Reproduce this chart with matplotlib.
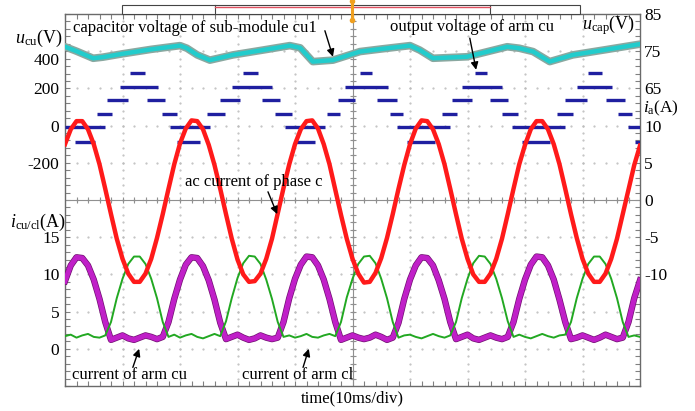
import matplotlib.pyplot as plt
import matplotlib.patheffects as pe
from matplotlib.patches import Rectangle
from matplotlib.lines import Line2D
from matplotlib.transforms import ScaledTranslation
import numpy as np

plt.rcParams['font.family'] = ['Liberation Serif', 'DejaVu Serif']
plt.rcParams['mathtext.fontset'] = 'custom'
plt.rcParams['mathtext.rm'] = 'Liberation Serif'
plt.rcParams['mathtext.it'] = 'Liberation Serif:italic'
plt.rcParams['axes.unicode_minus'] = False

# time base: 10 ms/div, 10 div, read every 1 ms
t_ms = np.arange(0, 101)

# ac current of phase c, i_a (A)
i_a = [7.5, 9.5, 10.6, 10.6, 9.5, 7.5, 4.8, 1.5, -1.9, -5.2, -7.9, -9.9, -11.0, -11.0, -9.9, -7.9, -5.1, -1.9, 1.5, 4.8,
       7.6, 9.6, 10.7, 10.6, 9.5, 7.4, 4.7, 1.5, -1.9, -5.2, -8.0, -10.0, -11.0, -10.9, -9.9, -7.9, -5.2, -1.8, 1.6, 4.8,
       7.5, 9.5, 10.6, 10.7, 9.6, 7.5, 4.8, 1.4, -2.0, -5.2, -7.9, -9.9, -11.1, -11.0, -9.8, -7.8, -5.1, -1.9, 1.5, 4.7,
       7.5, 9.6, 10.7, 10.6, 9.5, 7.5, 4.8, 1.5, -1.9, -5.2, -7.9, -10.0, -11.0, -11.0, -9.9, -7.9, -5.2, -1.9, 1.5, 4.8,
       7.4, 9.5, 10.6, 10.6, 9.5, 7.5, 4.8, 1.5, -1.9, -5.1, -7.9, -9.9, -11.0, -11.0, -9.9, -7.9, -5.2, -1.9, 1.4, 4.7,
       7.3]

# current of arm cu (A)
i_cu = [9.1, 11.2, 12.3, 12.2, 11.2, 9.3, 6.7, 3.6, 1.2, 1.5, 1.8, 1.4, 1.2, 1.5, 1.8, 1.6, 1.3, 1.6, 3.6, 6.7,
        9.3, 11.3, 12.3, 12.2, 11.1, 9.2, 6.6, 3.5, 1.3, 1.6, 1.9, 1.5, 1.2, 1.4, 1.8, 1.5, 1.3, 1.5, 3.6, 6.8,
        9.4, 11.3, 12.4, 12.3, 11.2, 9.3, 6.7, 3.6, 1.2, 1.5, 1.8, 1.5, 1.3, 1.5, 1.9, 1.6, 1.2, 1.5, 3.5, 6.7,
        9.3, 11.2, 12.3, 12.2, 11.2, 9.2, 6.7, 3.6, 1.3, 1.6, 1.9, 1.4, 1.2, 1.5, 1.8, 1.5, 1.3, 1.6, 3.6, 6.7,
        9.3, 11.3, 12.4, 12.3, 11.2, 9.3, 6.6, 3.6, 1.3, 1.5, 1.8, 1.5, 1.2, 1.5, 1.9, 1.6, 1.3, 1.5, 3.6, 6.8,
        9.2]

# current of arm cl (A)
i_cl = [1.7, 1.9, 1.5, 1.8, 2.0, 1.6, 1.5, 1.8, 3.6, 6.8, 9.4, 11.4, 12.4, 12.4, 11.4, 9.4, 6.8, 3.6, 1.6, 1.9,
        1.5, 1.8, 2.0, 1.6, 1.4, 1.7, 2.0, 1.7, 3.7, 6.8, 9.5, 11.5, 12.5, 12.4, 11.4, 9.3, 6.7, 3.6, 1.6, 1.8,
        1.5, 1.7, 2.0, 1.6, 1.5, 1.8, 2.0, 1.7, 3.6, 6.9, 9.4, 11.4, 12.4, 12.5, 11.5, 9.4, 6.8, 3.6, 1.5, 1.8,
        1.9, 1.6, 1.4, 1.7, 2.0, 1.7, 1.5, 1.8, 3.6, 6.8, 9.4, 11.5, 12.5, 12.4, 11.4, 9.4, 6.8, 3.7, 1.6, 1.9,
        1.6, 1.4, 1.7, 2.0, 1.7, 1.5, 1.8, 1.9, 3.6, 6.8, 9.4, 11.4, 12.4, 12.4, 11.4, 9.4, 6.8, 3.6, 1.6, 1.8,
        1.6]

# capacitor voltage of sub-module cu1 (V)
cap_t = [0, 2, 4.9, 6.6, 10, 15, 20, 21.2, 23, 25.2, 29.2, 34, 39.1, 40.9, 43.1, 46.6, 51.3, 55,
         60, 61.7, 64, 69.9, 73, 76.9, 79, 81.4, 84.3, 88.3, 94, 100]
cap_u = [76.2, 75.0, 73.1, 73.4, 74.3, 75.5, 76.5, 75.8, 74.0, 72.6, 74.0, 75.2, 76.5, 75.9, 72.2, 72.6, 74.9, 75.6,
         76.5, 75.3, 73.1, 73.5, 74.7, 76.2, 75.8, 74.9, 72.2, 74.0, 75.4, 76.9]

# output voltage of arm cu: staircase levels (V) and their time spans (ms)
step_start = [0, 1.7, 5.6, 7.3, 9.6, 11.3, 14.3, 16.9, 18.3, 19.5, 24.7, 27.0, 29.0, 31.0, 34.3, 36.5,
              38.3, 40.0, 45.6, 47.5, 48.7, 51.3, 54.3, 56.5, 57.7, 59.5, 65.6, 67.3, 69.0, 71.3,
              73.9, 76.0, 77.7, 79.5, 85.6, 87.0, 89.0, 91.0, 94.0, 96.2, 97.9, 99.1]
step_end = [7.0, 5.2, 8.2, 11.0, 16.2, 13.9, 17.4, 19.5, 25.2, 23.5, 27.8, 30.4, 36.0, 33.6, 37.4, 39.5,
            45.2, 43.5, 47.8, 50.4, 56.2, 53.4, 57.7, 58.8, 67.0, 64.3, 68.2, 70.8, 76.0, 73.4,
            77.0, 78.8, 87.0, 84.3, 88.3, 90.8, 95.1, 93.4, 97.4, 98.6, 100, 100]
step_level = [-10, -90, 65, 135, 205, 285, 135, 65, -10, -90, 65, 135, 205, 285, 135, 65,
              -10, -90, 65, 135, 205, 285, 135, 65, -10, -90, 65, 135, 205, 285,
              135, 65, -10, -90, 65, 135, 205, 285, 135, 65, -10, -90]

W, H = 695, 411
fig = plt.figure(figsize=(W / 100, H / 100), dpi=100)
L, R, B, T = 65, 640, 386, 14
pos = [L / W, (H - B) / H, (R - L) / W, (B - T) / H]

# scope screen: frame, dotted grid, centre cross
ax = fig.add_axes(pos)
ax.set_xlim(0, 100)
ax.set_ylim(0, 10)
ax.set_xticks(np.arange(0, 101, 10))
ax.set_xticks(np.arange(0, 101, 2), minor=True)
ax.set_yticks(np.arange(0, 11, 1))
ax.set_yticks(np.arange(0, 10.01, 0.2), minor=True)
ax.tick_params(which='both', direction='in', length=3.5, top=True, right=True,
               labelleft=False, labelbottom=False, color='#808080', width=0.8)
for s in ax.spines.values():
    s.set_color('#6a6a6a')
    s.set_linewidth(1.0)
gx = np.arange(2, 100, 2)
gy = np.arange(0.2, 10, 0.2)
for k in range(1, 10):
    ax.plot(np.full_like(gy, k * 10), gy, ls='none', marker='.', ms=1.1, color='#bdbdbd')
    ax.plot(gx, np.full_like(gx, k, dtype=float), ls='none', marker='.', ms=1.1, color='#bdbdbd')
ax.axvline(50, color='#909090', lw=0.8)
ax.axhline(5, color='#909090', lw=0.8)
ax.plot(np.full_like(gy, 50), gy, ls='none', marker='_', ms=5, mew=0.8, color='#909090')
ax.plot(gx, np.full_like(gx, 5, dtype=float), ls='none', marker='|', ms=5, mew=0.8, color='#909090')


def overlay(ylim):
    a = fig.add_axes(pos, facecolor='none')
    a.set_xlim(0, 100)
    a.set_ylim(*ylim)
    for s in a.spines.values():
        s.set_visible(False)
    a.set_xticks([])
    a.tick_params(axis='y', length=0, pad=4, labelsize=12.5)
    return a


ax_cap = overlay((-15, 85))
ax_cap.yaxis.tick_right()
ax_cap.set_yticks([85, 75, 65])
ax_cap.tick_params(axis='y', pad=3)
ax_cap.plot(cap_t, cap_u, color='#22cccc', lw=3.2, solid_capstyle='round',
            path_effects=[pe.Stroke(linewidth=5.5, foreground='#8aa8a0'), pe.Normal()])

ax_u = overlay((-1400, 600))
ax_u.set_yticks([-200, 0, 200, 400])
ax_u.hlines(step_level, step_start, step_end, color='#1f1fa0', lw=2.4)

ax_icl = overlay((-5, 45))
ax_icl.set_yticks([0, 5, 10, 15])
ax_icl.plot(t_ms, i_cu, color='#c020c8', lw=3.6,
            path_effects=[pe.Stroke(linewidth=4.6, foreground='#701070'), pe.Normal()])
ax_icl.plot(t_ms, i_cl, color='#22a822', lw=1.4)

ax_ia = overlay((-25, 25))
ax_ia.yaxis.tick_right()
ax_ia.set_yticks([10, 5, 0, -5, -10])
ax_ia.tick_params(axis='y', pad=3)
ax_ia.plot(t_ms, i_a, color='#ff1a1a', lw=3.2)

# annotations
ax_t = fig.add_axes(pos, facecolor='none')
ax_t.set_xlim(0, 100)
ax_t.set_ylim(0, 10)
ax_t.axis('off')
fs = 12
arw = dict(arrowstyle='-|>', color='black', lw=1.0, mutation_scale=11, shrinkA=0, shrinkB=0)
ax_t.text(1.4, 9.62, 'capacitor voltage of sub-module cu1', fontsize=fs, ha='left', va='center')
ax_t.annotate('', xy=(46.6, 8.85), xytext=(45.2, 9.55), arrowprops=arw)
ax_t.text(56.5, 9.65, 'output voltage of arm cu', fontsize=fs, ha='left', va='center')
ax_t.annotate('', xy=(71.5, 8.5), xytext=(70.4, 9.35), arrowprops=arw)
ax_t.text(99.2, 9.7, r'$u_{\mathrm{cap}}$(V)', fontsize=13, ha='right', va='center')
ax_t.text(20.9, 5.48, 'ac current of phase c', fontsize=fs, ha='left', va='center')
ax_t.annotate('', xy=(36.9, 4.62), xytext=(35.3, 5.22), arrowprops=arw)
ax_t.text(1.2, 0.30, 'current of arm cu', fontsize=fs, ha='left', va='center')
ax_t.annotate('', xy=(12.9, 1.0), xytext=(11.8, 0.5), arrowprops=arw)
ax_t.text(30.8, 0.30, 'current of arm cl', fontsize=fs, ha='left', va='center')
ax_t.annotate('', xy=(42.4, 1.0), xytext=(41.4, 0.5), arrowprops=arw)

fig.text(63 / W, (H - 38) / H, r'$u_{\mathrm{cu}}$(V)', fontsize=13, ha='right', va='center')
fig.text(66 / W, (H - 222) / H, r'$i_{\mathrm{cu/cl}}$(A)', fontsize=13, ha='right', va='center')
fig.text(643 / W, (H - 108) / H, r'$i_{\mathrm{a}}$(A)', fontsize=12.5, ha='left', va='center')
fig.text(352 / W, (H - 398) / H, 'time(10ms/div)', fontsize=12, ha='center', va='center')

# scope status bar and trigger marker
bar_y = (H - 14) / H
bar_h = 9.3 / H
fig.add_artist(Rectangle((122 / W, bar_y), (580 - 122) / W, bar_h, transform=fig.transFigure,
                         fc='white', ec='#444444', lw=0.8))
for xp in (215, 490):
    fig.add_artist(Line2D([xp / W, xp / W], [bar_y, bar_y + bar_h], color='#444444', lw=0.8))
fig.add_artist(Line2D([215 / W, 490 / W], [(H - 7.5) / H] * 2, color='#e05060', lw=1.0))
fig.add_artist(Line2D([352 / W, 352 / W], [(H - 1) / H, (H - 20) / H], color='#f0a020', lw=2.2,
                      marker='o', ms=3, markevery=[0, 1]))

# the 400 V label sits a little below its grid line on the scope print
fig.canvas.draw()
for lab in ax_u.get_yticklabels():
    if lab.get_text() == '400':
        lab.set_transform(lab.get_transform() + ScaledTranslation(0, -8 / 100, fig.dpi_scale_trans))

fig.savefig('out.png', dpi=100)
